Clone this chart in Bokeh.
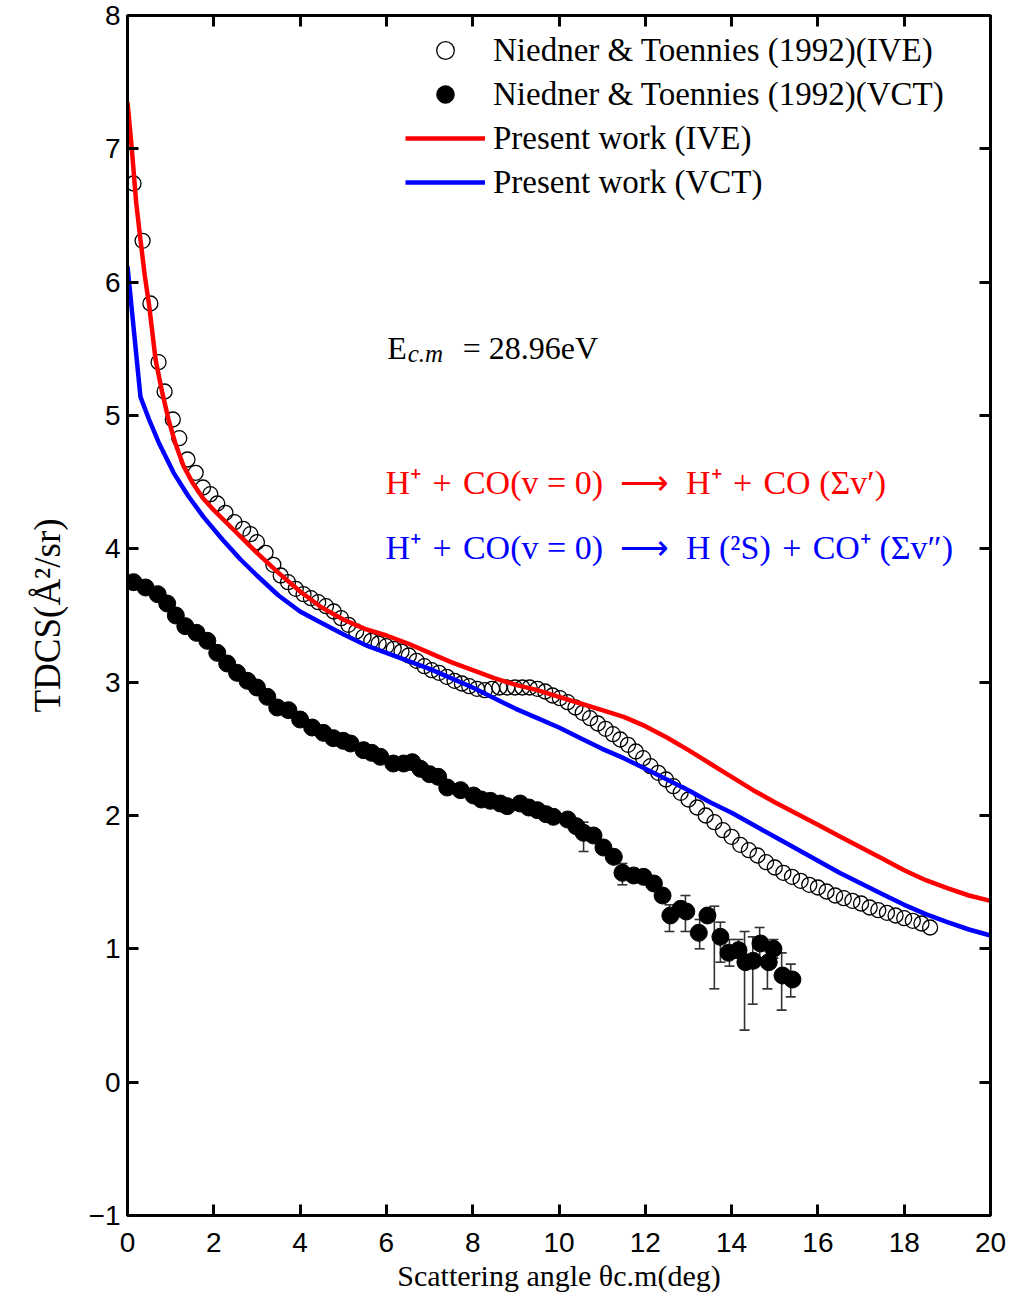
from bokeh.plotting import figure
from bokeh.models import (ColumnDataSource, Legend, LegendItem, Label, Whisker,
                          TeeHead, FixedTicker, LinearAxis, Range1d)
from bokeh.embed import file_html
from bokeh.resources import INLINE

# ---------------- data ----------------
ive_exp_x = [0.14, 0.35, 0.53, 0.72, 0.86, 1.05, 1.2, 1.39, 1.58, 1.75, 1.92, 2.08, 2.27, 2.48,
             2.68, 2.85, 3.0, 3.2, 3.38, 3.55, 3.72, 3.9, 4.08, 4.25, 4.42, 4.6, 4.78, 4.95,
             5.12, 5.3, 5.47, 5.65, 5.82, 6.0, 6.17, 6.35, 6.52, 6.7, 6.88, 7.05, 7.22, 7.4,
             7.58, 7.75, 7.92, 8.1, 8.28, 8.45, 8.62, 8.8, 8.98, 9.15, 9.32, 9.5, 9.68, 9.85,
             10.02, 10.2, 10.38, 10.55, 10.72, 10.9, 11.08, 11.25, 11.42, 11.6, 11.78, 11.95,
             12.12, 12.3, 12.48, 12.65, 12.82, 13.0, 13.2, 13.4, 13.6, 13.8, 14.0, 14.2, 14.4,
             14.6, 14.8, 15.0, 15.2, 15.4, 15.6, 15.8, 16.0, 16.2, 16.4, 16.6, 16.8, 17.0,
             17.2, 17.4, 17.6, 17.8, 18.0, 18.2, 18.4, 18.6]
ive_exp_y = [6.74, 6.31, 5.84, 5.40, 5.18, 4.97, 4.83, 4.67, 4.57, 4.46, 4.41, 4.34, 4.27, 4.20,
             4.15, 4.11, 4.05, 3.97, 3.88, 3.80, 3.75, 3.70, 3.66, 3.63, 3.60, 3.57, 3.53, 3.48,
             3.43, 3.38, 3.34, 3.31, 3.29, 3.27, 3.25, 3.23, 3.20, 3.16, 3.12, 3.09, 3.07, 3.04,
             3.01, 2.99, 2.97, 2.95, 2.94, 2.95, 2.96, 2.96, 2.96, 2.96, 2.96, 2.95, 2.93, 2.90,
             2.88, 2.85, 2.81, 2.77, 2.73, 2.69, 2.65, 2.61, 2.57, 2.53, 2.48, 2.43,
             2.37, 2.32, 2.27, 2.22, 2.17, 2.12, 2.06, 2.00, 1.95, 1.89, 1.84, 1.78, 1.74,
             1.70, 1.65, 1.61, 1.57, 1.54, 1.51, 1.48, 1.46, 1.43, 1.40, 1.38, 1.36, 1.34,
             1.31, 1.29, 1.27, 1.25, 1.23, 1.21, 1.19, 1.16]

vct_exp_x = [0.14, 0.42, 0.7, 0.92, 1.12, 1.34, 1.6, 1.85, 2.08, 2.31, 2.54, 2.78, 3.0, 3.24,
             3.47, 3.73, 4.0, 4.28, 4.54, 4.77, 5.0, 5.17, 5.47, 5.66, 5.86, 6.16, 6.4, 6.6,
             6.79, 7.0, 7.2, 7.41, 7.72, 8.02, 8.2, 8.41, 8.64, 8.8, 9.1, 9.3, 9.5, 9.7, 9.87,
             10.2, 10.4, 10.57, 10.8, 11.03, 11.27, 11.47, 11.73, 11.96, 12.2, 12.4, 12.58,
             12.82, 12.95, 13.24, 13.44, 13.74, 13.93, 14.16, 14.32, 14.5, 14.67, 14.86,
             14.97, 15.18, 15.41]
vct_exp_y = [3.75, 3.71, 3.66, 3.59, 3.50, 3.42, 3.37, 3.31, 3.22, 3.14, 3.07, 3.01, 2.96, 2.89,
             2.81, 2.79, 2.72, 2.66, 2.62, 2.58, 2.56, 2.54, 2.49, 2.47, 2.44, 2.39, 2.39, 2.40,
             2.35, 2.31, 2.29, 2.21, 2.19, 2.15, 2.12, 2.11, 2.09, 2.07, 2.09, 2.06, 2.04, 2.01,
             1.99, 1.97, 1.92, 1.87, 1.85, 1.76, 1.69, 1.57, 1.55, 1.54, 1.49, 1.40, 1.25,
             1.30, 1.28, 1.12, 1.25, 1.09, 0.97, 0.99, 0.90, 0.91, 1.04, 0.90,
             1.00, 0.80, 0.77]

err_x = [10.57, 11.47, 12.56, 12.93, 13.26, 13.6, 13.74, 13.95, 14.16, 14.3, 14.49, 14.65,
         14.83, 14.97, 15.16, 15.37]
err_lo = [1.73, 1.48, 1.13, 1.13, 1.00, 0.70, 0.90, 0.87, 0.93, 0.39, 0.585, 0.93,
          0.70, 0.93, 0.54, 0.64]
err_hi = [1.95, 1.64, 1.33, 1.40, 1.22, 1.32, 1.20, 1.07, 1.07, 1.13, 1.09, 1.16,
          1.05, 1.07, 0.97, 0.885]

ive_th_x = [0.0, 0.1, 0.2, 0.3, 0.4, 0.5, 0.65, 0.8, 0.95, 1.1, 1.3, 1.5, 1.75, 2.0, 2.5, 3.0,
            3.5, 4.0, 4.5, 5.0, 5.5, 6.0, 6.5, 7.0, 7.5, 8.0, 8.5, 9.0, 9.5, 10.0, 10.5, 11.0,
            11.5, 12.0, 12.5, 13.0, 13.5, 14.0, 14.5, 15.0, 15.5, 16.0, 16.5, 17.0, 17.5,
            18.0, 18.5, 19.0, 19.5, 20.0]
ive_th_y = [7.35, 7.0, 6.6, 6.32, 6.05, 5.83, 5.42, 5.18, 4.97, 4.80, 4.62, 4.50, 4.38, 4.29,
            4.13, 3.97, 3.82, 3.68, 3.56, 3.47, 3.40, 3.35, 3.29, 3.22, 3.15, 3.09, 3.03, 2.98,
            2.94, 2.89, 2.84, 2.79, 2.74, 2.67, 2.585, 2.49, 2.39, 2.29, 2.19, 2.10, 2.015, 1.93,
            1.845, 1.76, 1.675, 1.59, 1.515, 1.455, 1.40, 1.36]

vct_th_x = [0.0, 0.3, 0.5, 0.72, 1.07, 1.4, 1.76, 2.2, 2.62, 3.0, 3.5, 4.0, 4.4, 5.0, 5.5, 6.0,
            6.5, 7.0, 7.5, 8.0, 8.5, 9.0, 9.5, 10.0, 10.5, 11.0, 11.5, 12.0, 12.5, 13.0, 13.5,
            14.0, 14.5, 15.0, 15.5, 16.0, 16.5, 17.0, 17.5, 18.0, 18.5, 19.0, 19.5, 20.0]
vct_th_y = [6.12, 5.14, 4.97, 4.80, 4.57, 4.40, 4.24, 4.07, 3.92, 3.80, 3.65, 3.53, 3.46, 3.36,
            3.28, 3.22, 3.16, 3.10, 3.03, 2.96, 2.88, 2.80, 2.73, 2.66, 2.58, 2.50, 2.43, 2.35,
            2.27, 2.19, 2.10, 2.02, 1.93, 1.84, 1.75, 1.66, 1.57, 1.49, 1.41, 1.33, 1.26, 1.20,
            1.145, 1.10]

x_ticks = [0, 2, 4, 6, 8, 10, 12, 14, 16, 18, 20]
y_ticks = [-1, 0, 1, 2, 3, 4, 5, 6, 7, 8]

legend_labels = ["Niedner & Toennies (1992)(IVE)", "Niedner & Toennies (1992)(VCT)",
                 "Present work (IVE)", "Present work (VCT)"]

SERIF = "Liberation Serif"
SANS = "Liberation Sans"
EN = "\u2002"
TP = "\u2004"

# ---------------- figure ----------------
p = figure(width=1015, height=1302, x_range=Range1d(0, 20), y_range=Range1d(-1, 8),
           output_backend="svg", toolbar_location=None,
           min_border_left=127, min_border_right=25, min_border_top=15, min_border_bottom=87)
p.xgrid.visible = False
p.ygrid.visible = False
p.outline_line_color = "black"
p.outline_line_width = 3
p.background_fill_color = "white"
p.border_fill_color = "white"

for ax, ticks in ((p.xaxis[0], x_ticks), (p.yaxis[0], y_ticks)):
    ax.ticker = FixedTicker(ticks=ticks)
    ax.major_tick_in = 11
    ax.major_tick_out = 0
    ax.minor_tick_line_color = None
    ax.major_tick_line_width = 3
    ax.axis_line_width = 3
    ax.major_label_text_font = SANS
    ax.major_label_text_font_size = "28px"
    ax.major_label_text_color = "black"

p.xaxis[0].major_label_standoff = 17
p.xaxis[0].axis_label = "Scattering angle \u03b8c.m(deg)"
p.xaxis[0].axis_label_text_font = SERIF
p.xaxis[0].axis_label_text_font_style = "normal"
p.xaxis[0].axis_label_text_font_size = "30px"
p.xaxis[0].axis_label_text_color = "black"
p.xaxis[0].axis_label_standoff = 4

p.yaxis[0].major_label_standoff = 7
p.yaxis[0].major_label_overrides = {-1: "\u22121"}
p.yaxis[0].axis_label = "TDCS(\u00c5\u00b2/sr)"
p.yaxis[0].axis_label_text_font = SERIF
p.yaxis[0].axis_label_text_font_style = "normal"
p.yaxis[0].axis_label_text_font_size = "37px"
p.yaxis[0].axis_label_text_color = "black"
p.yaxis[0].axis_label_standoff = 18

for side, ticks in (("above", x_ticks), ("right", y_ticks)):
    ax = LinearAxis(ticker=FixedTicker(ticks=ticks), major_tick_in=11, major_tick_out=0,
                    minor_tick_line_color=None, major_tick_line_width=3, axis_line_width=3,
                    major_label_overrides={t: "" for t in ticks}, major_label_standoff=0,
                    major_label_text_font_size="10px")
    p.add_layout(ax, side)

# error bars behind points
err_src = ColumnDataSource(dict(x=err_x, lo=err_lo, hi=err_hi))
wh = Whisker(source=err_src, base="x", lower="lo", upper="hi", line_color="#333333",
             line_width=1.6,
             lower_head=TeeHead(size=10, line_color="#333333", line_width=1.6),
             upper_head=TeeHead(size=10, line_color="#333333", line_width=1.6),
             level="underlay")
p.add_layout(wh)

r_ive_exp = p.scatter(ive_exp_x, ive_exp_y, marker="circle", size=15, fill_color=None,
                      line_color="black", line_width=1.3)
r_vct_exp = p.scatter(vct_exp_x, vct_exp_y, marker="circle", size=17, fill_color="black",
                      line_color="black")
r_ive_th = p.line(ive_th_x, ive_th_y, line_color="#ff0000", line_width=4.5)
r_vct_th = p.line(vct_th_x, vct_th_y, line_color="#0000ff", line_width=4.5)

legend = Legend(items=[LegendItem(label=legend_labels[0], renderers=[r_ive_exp]),
                       LegendItem(label=legend_labels[1], renderers=[r_vct_exp]),
                       LegendItem(label=legend_labels[2], renderers=[r_ive_th]),
                       LegendItem(label=legend_labels[3], renderers=[r_vct_th])],
                location=(278, 1011), padding=0, spacing=0, margin=0,
                glyph_width=80, glyph_height=44, label_height=44, label_standoff=8,
                label_text_font=SERIF, label_text_font_size="33px", label_text_color="black",
                border_line_alpha=0, background_fill_alpha=0)
p.add_layout(legend)

# annotations
def lab(x, y, text, color="black", size="32px", style="normal", align="left", dx=0, dy=0):
    p.add_layout(Label(x=x, y=y, text=text, text_color=color, text_font=SERIF,
                       text_font_size=size, text_font_style=style, text_align=align,
                       text_baseline="alphabetic", x_offset=dx, y_offset=dy))

lab(6.47, 5.51, "E", align="right")
lab(6.47, 5.51, "c.m", size="25px", style="italic", dx=1, dy=-6)
lab(6.47, 5.51, "= 28.96eV", dx=56)

lab(5.98, 4.50, f"H\u207a{TP}+{TP}CO(v = 0){EN}\u27f6{EN}H\u207a{TP}+{TP}CO (\u03a3v\u2032)",
    color="#ff0000", size="34px")
lab(5.98, 4.01, f"H\u207a{TP}+{TP}CO(v = 0){EN}\u27f6{EN}H (\u00b2S){TP}+{TP}CO\u207a (\u03a3v\u2033)",
    color="#0000ff", size="34px")

open("out.html", "w").write(file_html(p, INLINE))
